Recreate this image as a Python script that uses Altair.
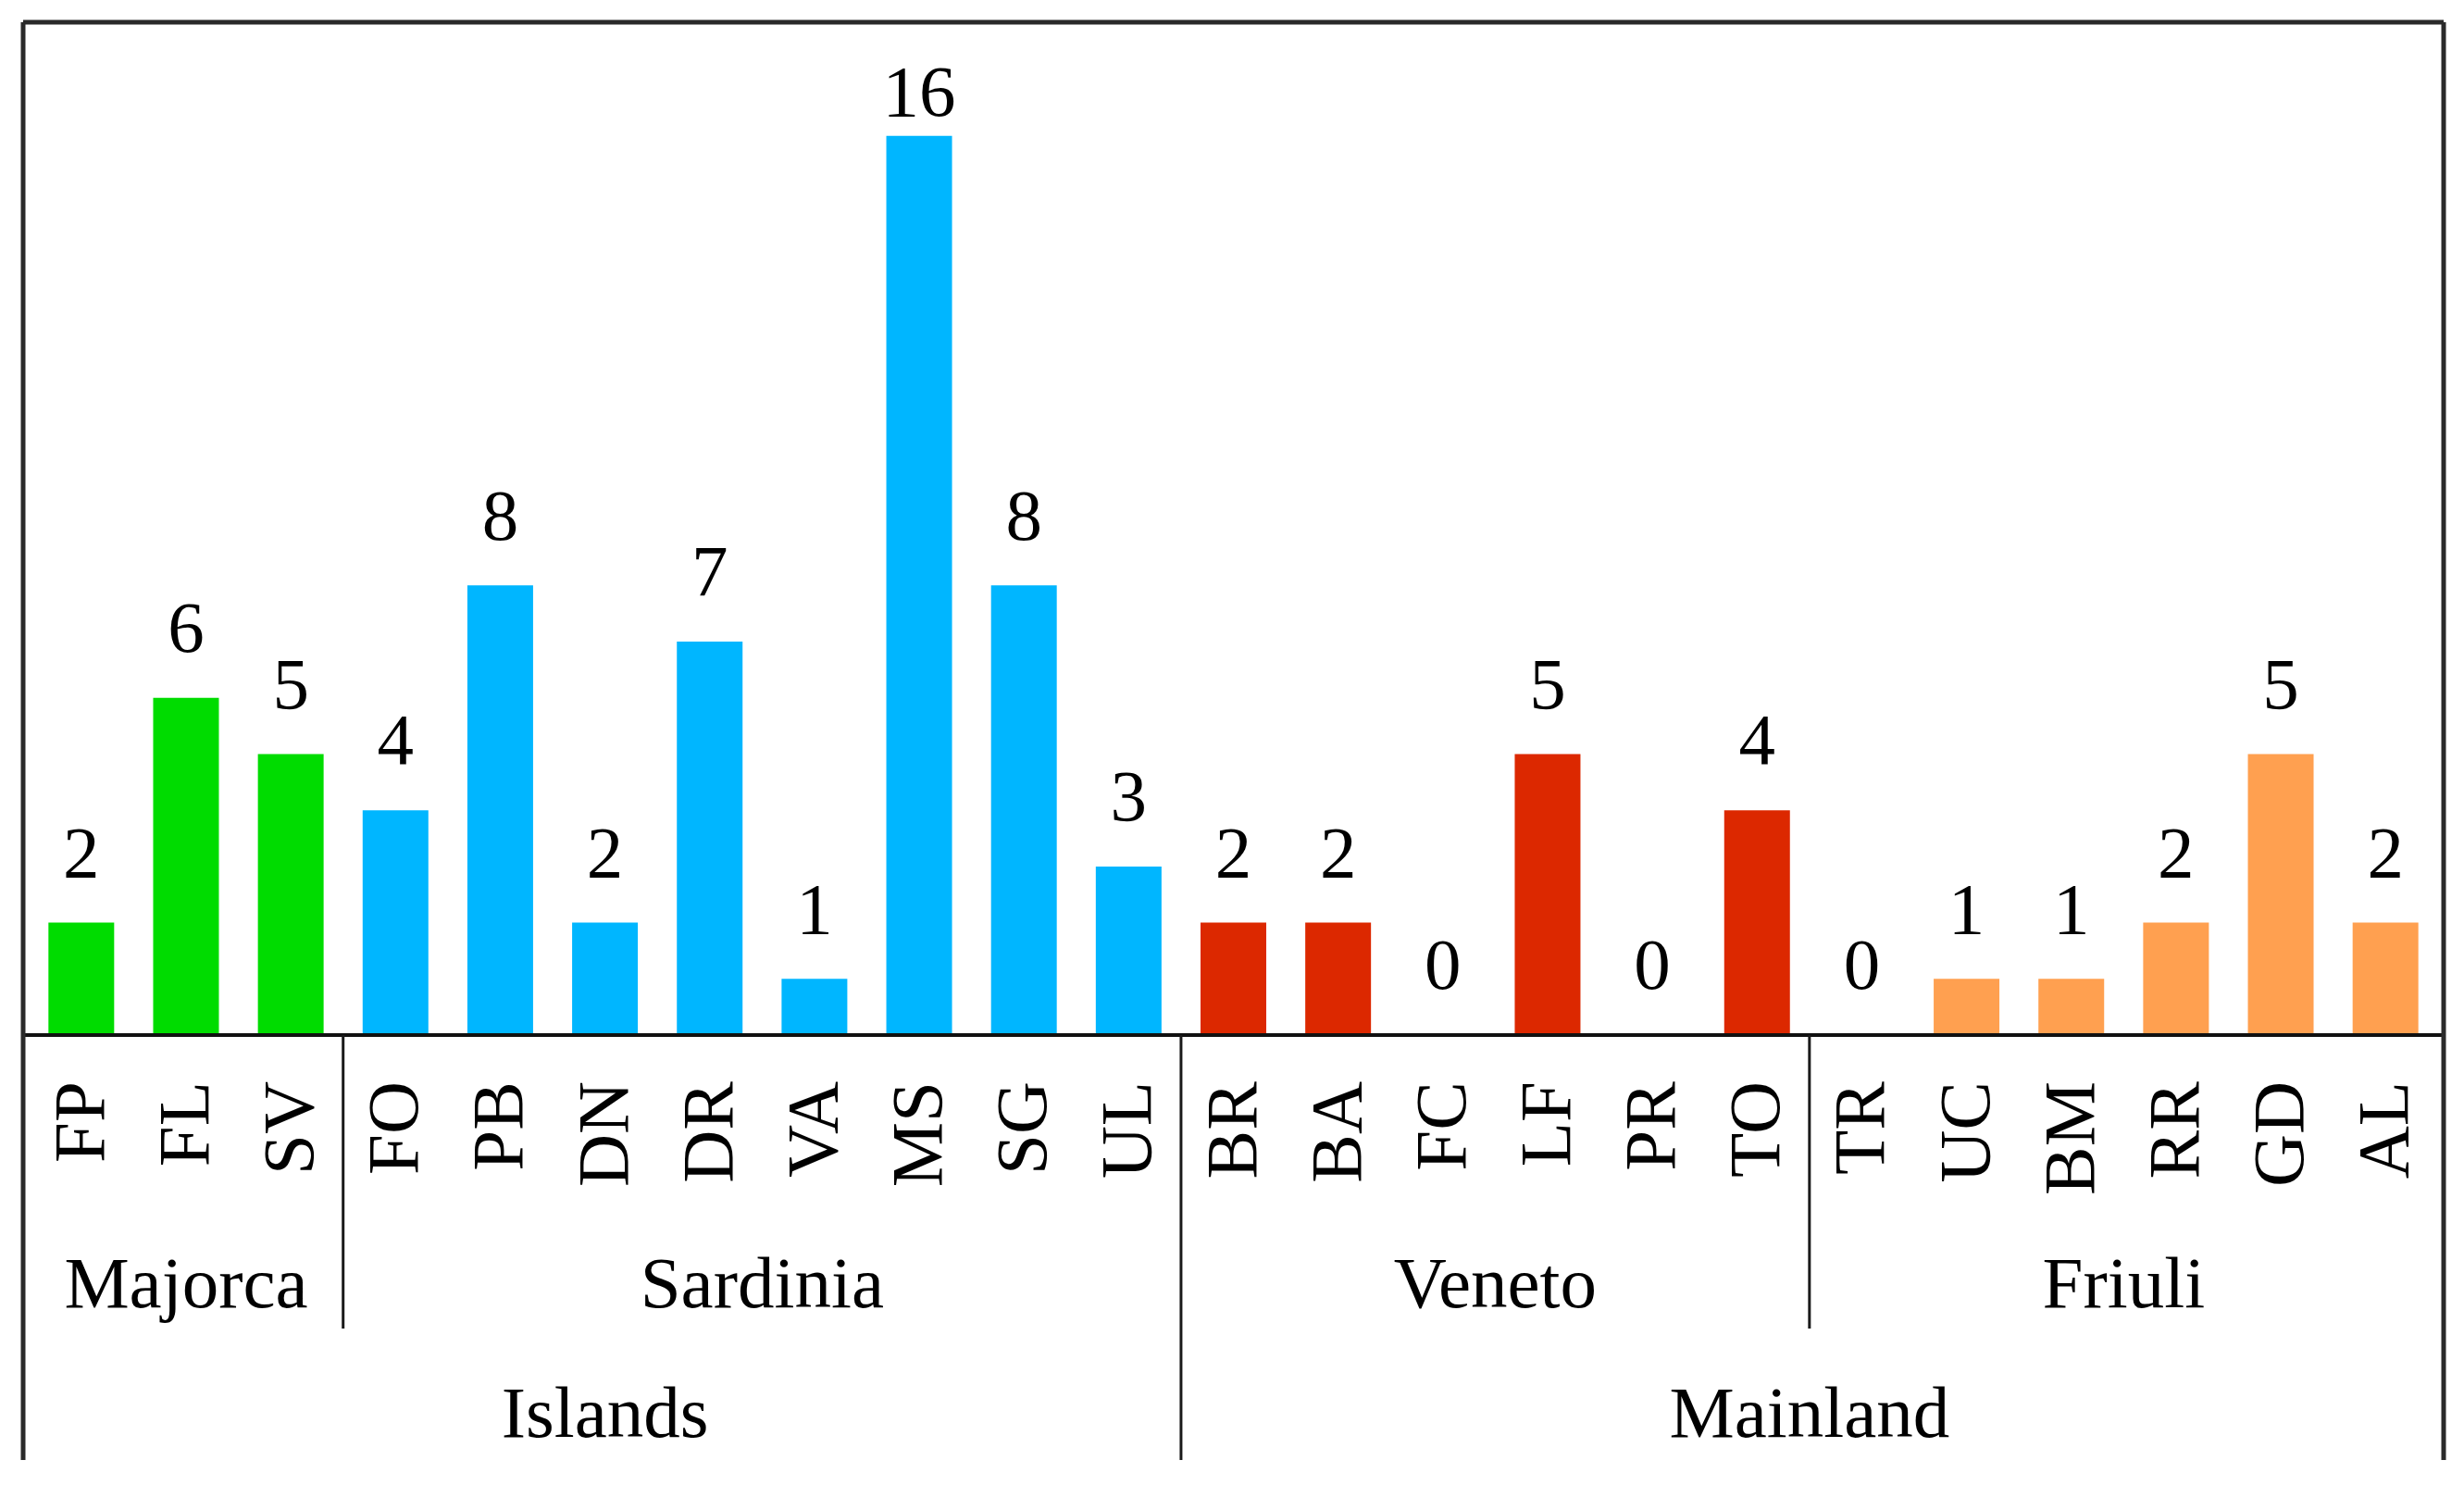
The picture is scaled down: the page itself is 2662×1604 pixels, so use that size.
import altair as alt
import pandas as pd

# ---- data ----
categories = ["FP", "FL", "SV", "FO", "PB", "DN", "DR", "VA", "MS", "SG", "UL",
              "BR", "BA", "FC", "LF", "PR", "TO", "TR", "UC", "BM", "RR", "GD", "AL"]
values = [2, 6, 5, 4, 8, 2, 7, 1, 16, 8, 3, 2, 2, 0, 5, 0, 4, 0, 1, 1, 2, 5, 2]
regions = ["Majorca"] * 3 + ["Sardinia"] * 8 + ["Veneto"] * 6 + ["Friuli"] * 6
areas = ["Islands"] * 11 + ["Mainland"] * 12
region_names = ["Majorca", "Sardinia", "Veneto", "Friuli"]
region_colors = ["#00DC00", "#00B6FF", "#DC2800", "#FFA050"]

df = pd.DataFrame({
    "idx": list(range(len(categories))),
    "cat": categories,
    "v": values,
    "zero": [0] * len(categories),
    "region": regions,
    "area": areas,
})

# separators between regions (derived from the data)
minor_pos, major_pos = [], []
for i in range(1, len(categories)):
    if regions[i] != regions[i - 1]:
        (major_pos if areas[i] != areas[i - 1] else minor_pos).append(i - 0.5)
minor_df = pd.DataFrame({"pos": minor_pos, "zero": [0] * len(minor_pos)})
major_df = pd.DataFrame({"pos": major_pos, "zero": [0] * len(major_pos)})
one_df = pd.DataFrame({"zero": [0]})

W, H = 2615, 1553
FONT = "Liberation Serif"
FS = 79
YMAX = 18.02
LABEL_GAP = 0.82      # gap between bar top and label baseline (data units)
LABEL_ROOM = 1.66     # labels are kept this far below the top of the plot

xs = alt.Scale(domain=[-0.511, len(categories) - 1 + 0.511], nice=False, zero=False)
ys = alt.Scale(domain=[-7.56, YMAX], nice=False, zero=False)
X = alt.X("idx:Q", scale=xs, axis=None)

base = alt.Chart(df)

bars = base.mark_bar(size=71).encode(
    x=X,
    y=alt.Y("v:Q", scale=ys, axis=None),
    y2="zero:Q",
    color=alt.Color("region:N", scale=alt.Scale(domain=region_names, range=region_colors), legend=None),
)

vlabels = base.transform_calculate(
    ly=f"min(datum.v + {LABEL_GAP}, {YMAX - LABEL_ROOM})"
).mark_text(font=FONT, fontSize=FS, baseline="alphabetic", color="black").encode(
    x=X, y=alt.Y("ly:Q", scale=ys, axis=None), text="v:Q"
)

clabels = base.mark_text(font=FONT, fontSize=FS, angle=270, align="right", baseline="middle",
                         color="black").encode(
    x=X, y=alt.value(1144), text="cat:N"
)

rlabels = base.mark_text(font=FONT, fontSize=FS, baseline="alphabetic", color="black").transform_aggregate(
    mid="mean(idx)", groupby=["region"]
).encode(x=alt.X("mid:Q", scale=xs, axis=None), y=alt.value(1388), text="region:N")

alabels = base.mark_text(font=FONT, fontSize=FS, baseline="alphabetic", color="black").transform_aggregate(
    mid="mean(idx)", groupby=["area"]
).encode(x=alt.X("mid:Q", scale=xs, axis=None), y=alt.value(1528), text="area:N")

sep_minor = alt.Chart(minor_df).mark_rule(color="#1a1a1a", strokeWidth=3).encode(
    x=alt.X("pos:Q", scale=xs, axis=None), y=alt.Y("zero:Q", scale=ys, axis=None), y2=alt.value(1411)
)

sep_major = alt.Chart(major_df).mark_rule(color="#1a1a1a", strokeWidth=3).encode(
    x=alt.X("pos:Q", scale=xs, axis=None), y=alt.Y("zero:Q", scale=ys, axis=None), y2=alt.value(H)
)

baseline = alt.Chart(one_df).mark_rule(color="#111111", strokeWidth=4).encode(
    x=alt.value(0), x2=alt.value(W), y=alt.Y("zero:Q", scale=ys, axis=None)
)

frame_top = alt.Chart(one_df).mark_rule(color="#2a2a2a", strokeWidth=5).encode(
    x=alt.value(0), x2=alt.value(W), y=alt.value(0)
)
frame_left = alt.Chart(one_df).mark_rule(color="#2a2a2a", strokeWidth=5).encode(
    x=alt.value(0), y=alt.value(0), y2=alt.value(H)
)
frame_right = alt.Chart(one_df).mark_rule(color="#2a2a2a", strokeWidth=5).encode(
    x=alt.value(W), y=alt.value(0), y2=alt.value(H)
)

chart = alt.layer(
    bars, baseline, sep_minor, sep_major, vlabels, clabels, rlabels, alabels,
    frame_top, frame_left, frame_right
).properties(
    width=W, height=H,
    padding={"left": 17, "top": 16, "right": 14, "bottom": 20},
    autosize=alt.AutoSizeParams(type="none"),
    background="white",
).configure_view(stroke=None)

chart.save("out.html", embed_options={"renderer": "svg", "actions": False})
